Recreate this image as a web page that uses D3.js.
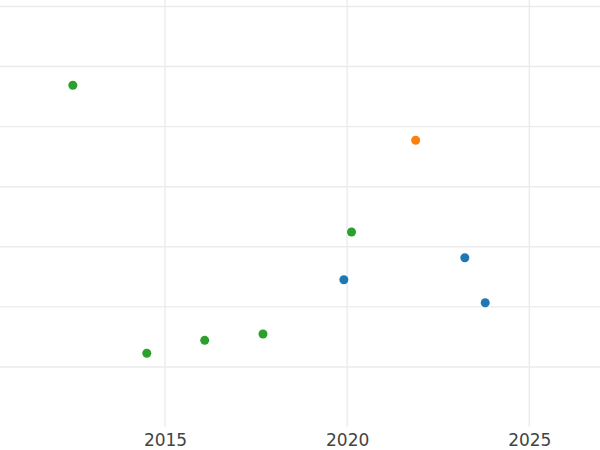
<!DOCTYPE html>
<html>
<head>
<meta charset="utf-8">
<script src="https://cdn.jsdelivr.net/npm/d3@7"></script>
<style>
  html, body { margin: 0; padding: 0; background: #fff; }
  svg { display: block; }
</style>
</head>
<body>
<svg id="chart" width="600" height="450"></svg>
<script>
// ---- data ----
const xTicks = [2015, 2020, 2025];
const yTicks = [1, 2, 3, 4, 5, 6, 7];
const greenYears  = [2012.47, 2014.50, 2016.09, 2017.69, 2020.12];
const greenValues = [5.69, 1.227, 1.443, 1.548, 3.246];
const orangeYears  = [2021.88];
const orangeValues = [4.773];
const blueYears  = [2019.91, 2023.23, 2023.79];
const blueValues = [2.452, 2.818, 2.069];
const seriesColors = ["#2ca02c", "#ff7f0e", "#1f77b4"];

const series = [
  { years: greenYears, values: greenValues, color: seriesColors[0] },
  { years: orangeYears, values: orangeValues, color: seriesColors[1] },
  { years: blueYears, values: blueValues, color: seriesColors[2] }
];

const W = 600, H = 450;
const plotBottom = 427;
const svg = d3.select("#chart");

const x = d3.scaleLinear().domain([2015, 2025]).range([165, 529.3]);
const y = d3.scaleLinear().domain([0, 7]).range([plotBottom, 6.5]);

// horizontal gridlines
svg.append("g")
  .selectAll("line")
  .data(yTicks)
  .join("line")
  .attr("x1", 0).attr("x2", W)
  .attr("y1", d => y(d)).attr("y2", d => y(d))
  .attr("stroke", "#ebebeb")
  .attr("stroke-width", 1.4);

// vertical gridlines
svg.append("g")
  .selectAll("line")
  .data(xTicks)
  .join("line")
  .attr("x1", d => x(d)).attr("x2", d => x(d))
  .attr("y1", 0).attr("y2", plotBottom)
  .attr("stroke", "#ebebeb")
  .attr("stroke-width", 1.4);

// x axis labels
const xAxis = d3.axisBottom(x).tickValues(xTicks).tickFormat(d3.format("d")).tickSize(0).tickPadding(7);
const gx = svg.append("g").attr("transform", `translate(0,${plotBottom})`).call(xAxis);
gx.select(".domain").remove();
gx.selectAll("text")
  .attr("font-family", "DejaVu Sans, sans-serif")
  .attr("font-size", 17)
  .attr("fill", "#444");

// points
series.forEach(s => {
  svg.append("g")
    .selectAll("circle")
    .data(s.years.map((yr, i) => ({ yr, v: s.values[i] })))
    .join("circle")
    .attr("cx", d => x(d.yr))
    .attr("cy", d => y(d.v))
    .attr("r", 4.5)
    .attr("fill", s.color);
});
</script>
</body>
</html>
